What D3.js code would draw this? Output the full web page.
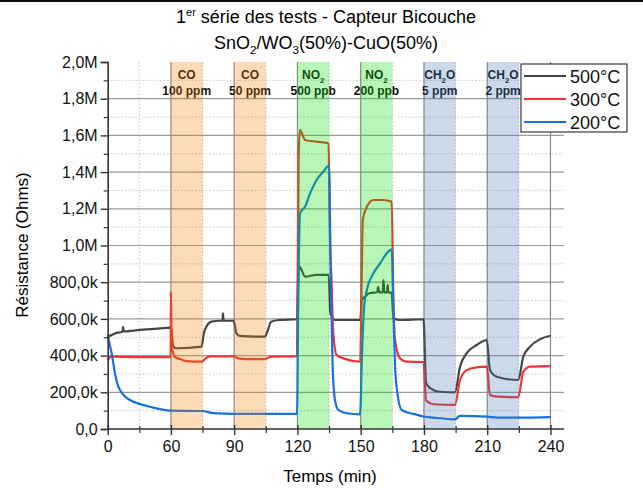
<!DOCTYPE html>
<html>
<head>
<meta charset="utf-8">
<script src="https://cdn.jsdelivr.net/npm/d3@7"></script>
<style>
  body { margin: 0; background: #fff; }
  text { font-family: "Liberation Sans", Arial, sans-serif; }
</style>
</head>
<body>
<div id="chart"></div>
<script>
// x ticks (the axis is compressed between 0 and 60, as on the original plot)
const xMajor = [0, 60, 90, 120, 150, 180, 210, 240]
const xMinor = [30, 75, 105, 135, 165, 195, 225]
const yMajor = [0, 200e3, 400e3, 600e3, 800e3, 1e6, 1.2e6, 1.4e6, 1.6e6, 1.8e6, 2e6]
const yLabels = ['0,0', '200,0k', '400,0k', '600,0k', '800,0k', '1,0M', '1,2M', '1,4M', '1,6M', '1,8M', '2,0M']
const yMinor = [100e3, 300e3, 500e3, 700e3, 900e3, 1.1e6, 1.3e6, 1.5e6, 1.7e6, 1.9e6]

// gas exposures
const bandStart = [60, 90, 120, 150, 180, 210]
const bandEnd = [75, 105, 135, 165, 195, 225]
const bandGas = ['CO', 'CO', 'NO2', 'NO2', 'CH2O', 'CH2O']
const bandConc = ['100 ppm', '50 ppm', '500 ppb', '200 ppb', '5 ppm', '2 ppm']

const seriesNames = ['500°C', '300°C', '200°C']

// [time (min), resistance (ohm)]
const s500 = [[0,494e3],[1.5,505e3],[3.8,512e3],[6.9,521e3],[14,530e3],[14.6,557e3],[15.2,532e3],[30.6,540e3],[45,546e3],[59.8,552e3],
  [60.3,540e3],[61.1,449e3],[62.7,440e3],[74.5,449e3],[75.6,521e3],[76.8,557e3],[79.2,585e3],[83.1,590e3],[84.4,590e3],[84.7,630e3],[85,590e3],[89.8,590e3],
  [91.1,521e3],[92.7,507e3],[104.6,503e3],[106,540e3],[107.5,585e3],[111.5,594e3],[119.8,598e3],
  [120.5,860e3],[121,884e3],[123.6,830e3],[129,840e3],[134.8,840e3],[135.6,632e3],[137.8,594e3],[149.8,594e3],
  [150.5,703e3],[152,721e3],[154.4,741e3],[157.8,745e3],[158.3,774e3],[158.8,745e3],[160.4,745e3],[160.8,812e3],[161.2,745e3],[162.5,745e3],[162.8,785e3],[163.1,745e3],[164.7,741e3],
  [165.5,605e3],[168.6,594e3],[179.8,598e3],[181,250e3],[182.9,223e3],[187.6,203e3],[194.7,200e3],
  [197.1,340e3],[200.3,414e3],[205,458e3],[209.8,485e3],[211.3,321e3],[214.5,285e3],[224.7,267e3],
  [227.1,394e3],[230.3,449e3],[235,489e3],[240,508e3]]

const s300 = [[0,376e3],[2,390e3],[3.8,394e3],[30,392e3],[59.8,392e3],[60,748e3],[60.4,449e3],[62,392e3],[64.4,381e3],[67.4,370e3],[74.5,367e3],
  [77,390e3],[79,396e3],[89.8,396e3],[91.9,385e3],[95.5,381e3],[104.5,381e3],[107.5,394e3],[119.8,396e3],
  [120.6,1.5e6],[121.2,1.63e6],[123.6,1.575e6],[129,1.566e6],[134.8,1.557e6],[135.2,1.177e6],[136.2,794e3],[137,523e3],[138.6,403e3],[141.8,385e3],[149.8,367e3],
  [150.3,703e3],[151,1.139e6],[152.9,1.211e6],[156,1.248e6],[160.8,1.248e6],[164.7,1.239e6],[165.5,703e3],[166.3,485e3],[168.6,385e3],[171.8,367e3],[179.8,365e3],
  [181,155e3],[184.4,135e3],[194.7,131e3],[197.1,267e3],[200.3,321e3],[205,336e3],[209.8,340e3],
  [211.3,185e3],[214.5,176e3],[224.7,173e3],[227.1,312e3],[230.3,340e3],[240,343e3]]

const s200 = [[0,515e3],[1.5,470e3],[3.8,412e3],[6.9,303e3],[9,250e3],[11.7,212e3],[16,180e3],[21,158e3],[30.6,136e3],[40,121e3],[50,108e3],[59,100e3],
  [75,98e3],[80,86e3],[90,82e3],[119.8,82e3],
  [120.4,700e3],[121.2,1.175e6],[123.6,1.211e6],[126,1.284e6],[129.1,1.357e6],[132.3,1.402e6],[135,1.435e6],
  [135.8,800e3],[136.7,340e3],[137.8,158e3],[139.4,104e3],[143.4,86e3],[149.7,80e3],
  [150.6,400e3],[151.6,666e3],[152.9,757e3],[156,848e3],[159.2,903e3],[162.3,957e3],[164.7,979e3],
  [165.6,600e3],[166.3,340e3],[167.4,196e3],[169.4,104e3],[173.4,86e3],[176,80e3],[179.7,68e3],
  [184.4,62e3],[194.7,53e3],[197.1,71e3],[210,67e3],[214.5,62e3],[224.7,62e3],[240,65e3]]

const width = 643
const height = 488
const plotLeft = 107.7, plotRight = 564, plotTop = 62, plotBottom = 429

const svg = d3.select('#chart').append('svg')
  .attr('width', width)
  .attr('height', height)

const x = d3.scaleLinear().domain([0, 60, 240]).range([plotLeft, 170.9, 550.5])
const y = d3.scaleLinear().domain([0, 2e6]).range([plotBottom, plotTop])

const colors = ['#454545', '#ee3434', '#1a6fe0']

// black rule on top of the image
svg.append('rect').attr('x', 0).attr('y', 0).attr('width', width).attr('height', 2).attr('fill', '#111')

// title
const t1 = svg.append('text').attr('x', 326).attr('y', 23).attr('text-anchor', 'middle').style('font-size', '18px')
t1.append('tspan').text('1')
t1.append('tspan').text('er').style('font-size', '11px').attr('dy', -7)
t1.append('tspan').text(' série des tests - Capteur Bicouche').attr('dy', 7)

function chem(sel, str, size) {
  // digits right after a letter become subscripts
  const parts = str.split(/(\d)/).filter(s => s !== '')
  let down = false
  parts.forEach((part, i) => {
    const isSub = /^\d$/.test(part) && i > 0 && /[A-Za-z]$/.test(parts[i - 1])
    const ts = sel.append('tspan').text(part)
    if (isSub) {
      ts.style('font-size', (size * 0.65) + 'px').attr('dy', size * 0.3)
      down = true
    } else if (down) {
      ts.attr('dy', -size * 0.3)
      down = false
    }
  })
}
const t2 = svg.append('text').attr('x', 326).attr('y', 49).attr('text-anchor', 'middle').style('font-size', '18px')
chem(t2, 'SnO2/WO3(50%)-CuO(50%)', 18)

// grid
const grid = svg.append('g')
grid.selectAll('.ymin').data(yMinor).enter().append('line')
  .attr('x1', plotLeft).attr('x2', plotRight).attr('y1', d => y(d)).attr('y2', d => y(d))
  .attr('stroke', '#c4c4c4').attr('stroke-dasharray', '1.5,2')
grid.selectAll('.xmin').data(xMinor).enter().append('line')
  .attr('y1', plotTop).attr('y2', plotBottom).attr('x1', d => x(d)).attr('x2', d => x(d))
  .attr('stroke', '#c4c4c4').attr('stroke-dasharray', '1.5,2')
grid.selectAll('.ymaj').data(yMajor.filter(d => d > 0 && d < 2e6)).enter().append('line')
  .attr('x1', plotLeft).attr('x2', plotRight).attr('y1', d => y(d)).attr('y2', d => y(d))
  .attr('stroke', '#9a9a9a').attr('stroke-width', 1.2)
grid.selectAll('.xmaj').data(xMajor.filter(d => d > 0)).enter().append('line')
  .attr('y1', plotTop).attr('y2', plotBottom).attr('x1', d => x(d)).attr('x2', d => x(d))
  .attr('stroke', '#8a8a8a').attr('stroke-width', 1.2)

// band labels (drawn under the bands, like on the original)
const bandX = i => (x(bandStart[i]) + x(bandEnd[i])) / 2
bandGas.forEach((g, i) => {
  const t = svg.append('text').attr('x', bandX(i)).attr('y', 79).attr('text-anchor', 'middle')
    .style('font-size', '12px').style('font-weight', 'bold').attr('fill', '#111')
  chem(t, g, 12)
  svg.append('text').attr('x', bandX(i)).attr('y', 95).attr('text-anchor', 'middle')
    .style('font-size', '12px').style('font-weight', 'bold').attr('fill', '#111')
    .text(bandConc[i])
})

// curves
const line = d3.line().x(d => x(d[0])).y(d => y(d[1])).curve(d3.curveMonotoneX)
const allSeries = [s500, s300, s200]
svg.selectAll('.serie').data(allSeries).enter().append('path')
  .attr('d', line)
  .attr('fill', 'none')
  .attr('stroke', (d, i) => colors[i])
  .attr('stroke-width', 2.2)
  .attr('stroke-linejoin', 'round')

// exposure bands on top, semi transparent
const bandFill = { CO: '#f57c00', NO2: '#00dd00', CH2O: '#4678b4' }
svg.selectAll('.band').data(bandStart).enter().append('rect')
  .attr('x', (d, i) => x(d))
  .attr('width', (d, i) => x(bandEnd[i]) - x(d))
  .attr('y', plotTop)
  .attr('height', plotBottom - plotTop)
  .attr('fill', (d, i) => bandFill[bandGas[i]])
  .attr('opacity', 0.28)

// axes
const yAxis = d3.axisLeft(y).tickValues(yMajor).tickFormat((d, i) => yLabels[i]).tickSize(7).tickPadding(3)
const gy = svg.append('g').attr('transform', `translate(${plotLeft},0)`).call(yAxis)
gy.selectAll('text').style('font-size', '16px').attr('fill', '#111')
gy.select('.domain').attr('stroke', '#333').attr('stroke-width', 1.6)
gy.selectAll('.tick line').attr('stroke', '#333').attr('stroke-width', 1.4)
svg.append('g').attr('transform', `translate(${plotLeft},0)`)
  .call(d3.axisLeft(y).tickValues(yMinor).tickFormat('').tickSize(4))
  .call(g => g.select('.domain').remove())
  .selectAll('line').attr('stroke', '#333').attr('stroke-width', 1.2)

const xAxis = d3.axisBottom(x).tickValues(xMajor).tickSize(6).tickPadding(6)
const gx = svg.append('g').attr('transform', `translate(0,${plotBottom})`).call(xAxis)
gx.selectAll('text').style('font-size', '16px').attr('fill', '#111')
gx.select('.domain').attr('d', `M${plotLeft},0H${plotRight}`).attr('stroke', '#333').attr('stroke-width', 1.6)
gx.selectAll('.tick line').attr('y1', -4).attr('stroke', '#333').attr('stroke-width', 1.4)
svg.append('g').attr('transform', `translate(0,${plotBottom})`)
  .call(d3.axisBottom(x).tickValues(xMinor).tickFormat('').tickSize(4))
  .call(g => g.select('.domain').remove())
  .selectAll('line').attr('y1', -3).attr('stroke', '#333').attr('stroke-width', 1.2)

// axis titles
svg.append('text').attr('x', 330).attr('y', 482).attr('text-anchor', 'middle')
  .style('font-size', '17px').text('Temps (min)')
svg.append('text').attr('transform', 'translate(28,245) rotate(-90)').attr('text-anchor', 'middle')
  .style('font-size', '17px').text('Résistance (Ohms)')

// legend
const lg = svg.append('g').attr('transform', 'translate(521,64)')
lg.append('rect').attr('width', 106).attr('height', 68).attr('fill', '#fff').attr('stroke', '#111').attr('stroke-width', 1)
seriesNames.forEach((n, i) => {
  const yy = 12 + i * 23
  lg.append('line').attr('x1', 3).attr('x2', 45).attr('y1', yy).attr('y2', yy)
    .attr('stroke', colors[i]).attr('stroke-width', 2.2)
  lg.append('text').attr('x', 49).attr('y', yy + 6.5).style('font-size', '18px').attr('fill', '#111').text(n)
})
</script>
</body>
</html>
